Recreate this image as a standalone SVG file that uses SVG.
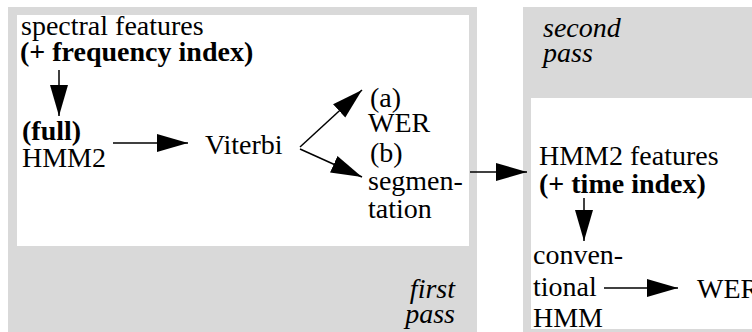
<svg xmlns="http://www.w3.org/2000/svg" width="752" height="332" viewBox="0 0 752 332">
<style>
text{font-family:'Liberation Serif','Times New Roman','DejaVu Serif',serif;font-size:28px;fill:#000}
.b{font-weight:bold}
.i{font-style:italic}
.ln{stroke:#000;stroke-width:1.5;fill:none}
.gray{fill:#d9d9d9}
.white{fill:#fff}
</style>
<defs>
<marker id="ah" markerUnits="userSpaceOnUse" markerWidth="32" markerHeight="19" refX="31" refY="9.5" orient="auto">
<path d="M0,0.5 L31,9.5 L0,18.5 z" fill="#000"/>
</marker>
</defs>
<g id="first-pass">
<rect class="gray" x="8" y="7" width="469" height="325"/>
<rect class="white" x="17" y="15" width="452" height="231"/>
<text class="i" x="455" y="298" text-anchor="end">first</text>
<text class="i" x="455" y="323" text-anchor="end">pass</text>
</g>
<g id="second-pass">
<rect class="gray" x="523" y="7" width="229" height="325"/>
<rect class="white" x="531" y="98" width="221" height="231"/>
<text class="i" x="543" y="37">second</text>
<text class="i" x="543" y="62">pass</text>
</g>
<g id="spectral">
<text x="21" y="35">spectral features</text>
<text class="b" x="20" y="61">(+ frequency index)</text>
</g>
<g id="hmm2-full">
<text class="b" x="22" y="140">(full)</text>
<text x="22" y="167">HMM2</text>
</g>
<g id="viterbi">
<text x="205" y="154">Viterbi</text>
</g>
<g id="wer-a">
<text x="370" y="107">(a)</text>
<text x="368" y="132">WER</text>
</g>
<g id="segmentation-b">
<text x="370" y="162">(b)</text>
<text x="368" y="190">segmen-</text>
<text x="368" y="218">tation</text>
</g>
<g id="hmm2-features">
<text x="539" y="165">HMM2 features</text>
<text class="b" x="539" y="193">(+ time index)</text>
</g>
<g id="conventional-hmm">
<text x="533" y="264">conven-</text>
<text x="533" y="296">tional</text>
<text x="533" y="327">HMM</text>
</g>
<g id="wer-final">
<text x="697" y="298">WER</text>
</g>
<g id="connectors">
<line class="ln" x1="59" y1="70" x2="59" y2="116" marker-end="url(#ah)"/>
<line class="ln" x1="113" y1="143" x2="188" y2="143" marker-end="url(#ah)"/>
<line class="ln" x1="300" y1="147" x2="362" y2="90" marker-end="url(#ah)"/>
<line class="ln" x1="300" y1="149" x2="362" y2="177" marker-end="url(#ah)"/>
<line class="ln" x1="470" y1="172" x2="527" y2="172" marker-end="url(#ah)"/>
<line class="ln" x1="584" y1="198" x2="584" y2="241" marker-end="url(#ah)"/>
<line class="ln" x1="604" y1="288" x2="678" y2="288" marker-end="url(#ah)"/>
</g>
</svg>
